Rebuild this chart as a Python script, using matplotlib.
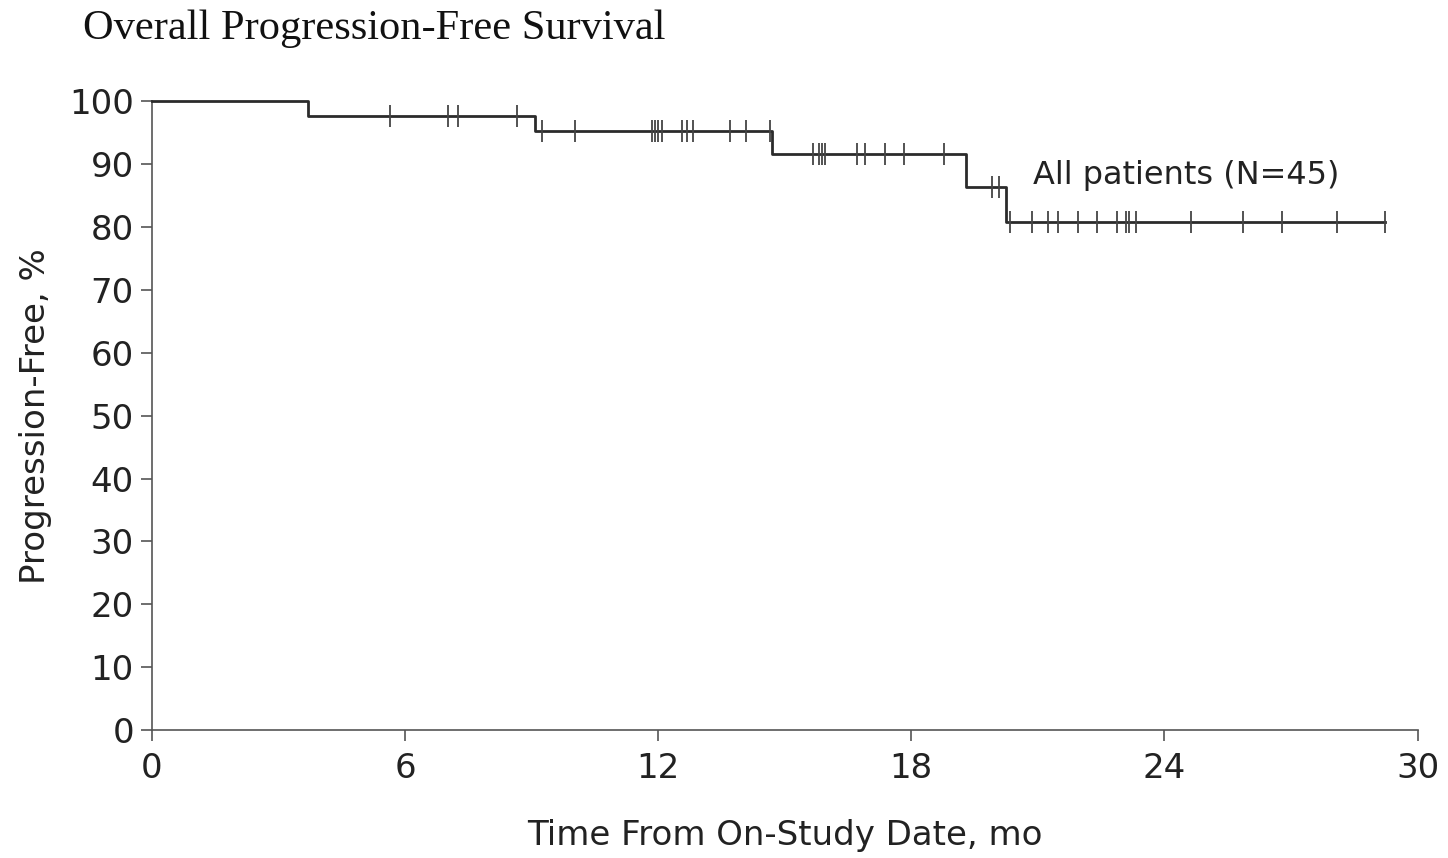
import numpy as np
import matplotlib
matplotlib.use("Agg")
import matplotlib.pyplot as plt

# Kaplan-Meier step curve
event_times = [0.0, 3.70, 9.08, 14.69, 19.30, 20.24]
surv_pct    = [100.0, 97.7, 95.2, 91.6, 86.4, 80.8]

# censor marks (months)
censor_times = [5.64, 7.01, 7.25, 8.65, 9.24, 10.02, 11.85, 11.92, 12.0, 12.08,
                12.56, 12.67, 12.82, 13.70, 14.09, 14.64, 15.66, 15.81, 15.87,
                15.95, 16.70, 16.90, 17.37, 17.82, 18.77, 19.90, 20.07, 20.33,
                20.85, 21.23, 21.47, 21.94, 22.39, 22.87, 23.08, 23.15, 23.32,
                24.64, 25.85, 26.78, 28.10, 29.22]
end_time = 29.22

x_ticks = [0, 6, 12, 18, 24, 30]
y_ticks = list(range(0, 101, 10))

LINE = "#2b2b2b"
TXT = "#222222"
SANS = "DejaVu Sans"

fig = plt.figure(figsize=(14.48, 8.58), dpi=100)
ax = fig.add_axes([0.105, 0.149, 0.874, 0.733])

# step line
xs = list(event_times) + [end_time]
ys = list(surv_pct) + [surv_pct[-1]]
ax.step(xs, ys, where="post", color=LINE, lw=2.0, clip_on=False, zorder=3)

# censor ticks at the curve level
idx = np.searchsorted(event_times, censor_times, side="right") - 1
c_y = np.array(surv_pct)[idx]
ax.plot(censor_times, c_y, ls="none", marker="|", ms=16, mew=1.3,
        color="#444444", clip_on=False, zorder=4)

ax.text(20.88, 88.2, "All patients (N=45)", fontsize=23, color=TXT,
        va="center", ha="left", family=SANS)

ax.set_xlim(0, 30)
ax.set_ylim(0, 100)
ax.set_xticks(x_ticks)
ax.set_yticks(y_ticks)
for s in ("top", "right"):
    ax.spines[s].set_visible(False)
for s in ("left", "bottom"):
    ax.spines[s].set_color("#555555")
    ax.spines[s].set_linewidth(1.2)
ax.tick_params(direction="out", length=8, width=1.2, color="#555555",
               labelsize=24.5, labelcolor=TXT)
ax.tick_params(axis="x", pad=8)
ax.tick_params(axis="y", pad=5)
for lab in ax.get_xticklabels() + ax.get_yticklabels():
    lab.set_family(SANS)

ax.set_xlabel("Time From On-Study Date, mo", fontsize=24.5, color=TXT,
              labelpad=24, family=SANS)
ax.set_ylabel("Progression-Free, %", fontsize=24.5, color=TXT,
              labelpad=12, family=SANS)

fig.text(0.057, 0.966, "Overall Progression-Free Survival", fontsize=30.5,
         family="Liberation Serif", va="center", ha="left", color="#111111")

fig.savefig("out.png", dpi=100)
